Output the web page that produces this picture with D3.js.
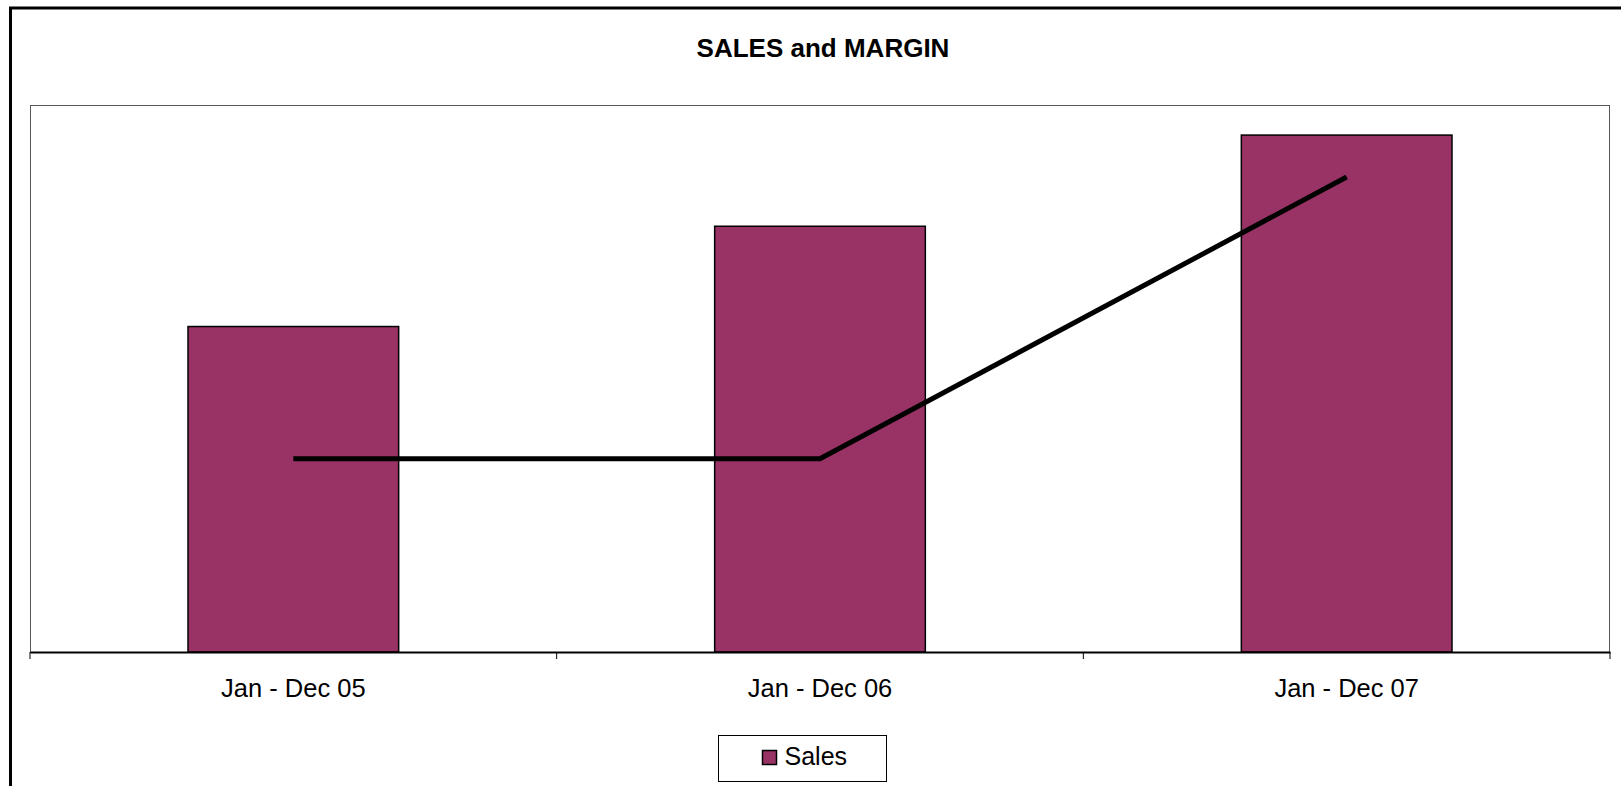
<!DOCTYPE html>
<html>
<head>
<meta charset="utf-8">
<script src="https://cdn.jsdelivr.net/npm/d3@7"></script>
<style>
  body { margin: 0; background: #fff; }
  text { font-family: "Liberation Sans", Arial, sans-serif; fill: #000; }
</style>
</head>
<body>
<div id="chart"></div>
<script>
// data (no value axis shown, so units are estimates)
var categories = ["Jan - Dec 05", "Jan - Dec 06", "Jan - Dec 07"];
var sales = [3570, 4670, 5670];     // bars
var margin_vals = [21.2, 21.2, 52.1]; // black line, secondary scale
var legendLabels = ["Sales"];
var chartTitle = "SALES and MARGIN";

// –––––––– canvas ––––––––
var svgWidth = 1621, svgHeight = 786;
var plot = { left: 30, right: 1610, top: 105, bottom: 652 };

var svg = d3.select("#chart").append("svg")
  .attr("width", svgWidth)
  .attr("height", svgHeight);

svg.append("rect").attr("width", svgWidth).attr("height", svgHeight).attr("fill", "#fff");

// chart area border (runs off the right and bottom)
svg.append("rect")
  .attr("x", 10.5).attr("y", 8)
  .attr("width", 1640).attr("height", 820)
  .attr("fill", "none").attr("stroke", "#000").attr("stroke-width", 3);

// plot area border
svg.append("rect")
  .attr("x", plot.left + 0.5).attr("y", plot.top + 0.5)
  .attr("width", plot.right - plot.left - 1).attr("height", plot.bottom - plot.top)
  .attr("fill", "#fff").attr("stroke", "#595959").attr("stroke-width", 1);

// title
svg.append("text")
  .attr("x", 823).attr("y", 57)
  .attr("text-anchor", "middle")
  .style("font-size", "26px").style("font-weight", "bold")
  .text(chartTitle);

// –––––––– scales ––––––––
var x = d3.scaleBand().domain(categories).range([plot.left, plot.right]).padding(0);
var y = d3.scaleLinear().domain([0, 6000]).range([plot.bottom, plot.top]);
var y2 = d3.scaleLinear().domain([0, 60]).range([plot.bottom, plot.top]);
var barW = x.bandwidth() / 2.5; // gap width 150%

// bars
svg.append("g").selectAll("rect")
  .data(sales)
  .enter().append("rect")
  .attr("x", (d, i) => x(categories[i]) + (x.bandwidth() - barW) / 2)
  .attr("y", d => y(d))
  .attr("width", barW)
  .attr("height", d => y(0) - y(d))
  .attr("fill", "#993366")
  .attr("stroke", "#000")
  .attr("stroke-width", 1.5);

// margin line
var line = d3.line()
  .x((d, i) => x(categories[i]) + x.bandwidth() / 2)
  .y(d => y2(d));
svg.append("path")
  .datum(margin_vals)
  .attr("d", line)
  .attr("fill", "none")
  .attr("stroke", "#000")
  .attr("stroke-width", 5);

// –––––––– category axis ––––––––
var axisG = svg.append("g")
  .attr("transform", `translate(0, ${plot.bottom})`)
  .call(d3.axisBottom(x).tickSize(0).tickPadding(0));
axisG.select(".domain").attr("stroke", "#000").attr("stroke-width", 2);
axisG.selectAll(".tick text")
  .attr("dy", null)
  .attr("y", 45)
  .style("font-size", "25.5px")
  .style("font-family", "'Liberation Sans', Arial, sans-serif");

// tick marks sit on the category boundaries
var bounds = categories.map(c => x(c)).concat([x.range()[1]]);
axisG.selectAll(".bound")
  .data(bounds)
  .enter().append("line")
  .attr("class", "bound")
  .attr("x1", d => d).attr("x2", d => d)
  .attr("y1", 0).attr("y2", 7)
  .attr("stroke", "#000").attr("stroke-width", 1);

// –––––––– legend ––––––––
var leg = svg.append("g").attr("transform", "translate(718.5, 735.5)");
leg.append("rect")
  .attr("width", 168).attr("height", 46)
  .attr("fill", "#fff").attr("stroke", "#000").attr("stroke-width", 1);
leg.selectAll(".sw")
  .data(legendLabels)
  .enter().append("rect")
  .attr("class", "sw")
  .attr("x", 44).attr("y", 15)
  .attr("width", 14).attr("height", 14)
  .attr("fill", "#993366").attr("stroke", "#000").attr("stroke-width", 1.5);
leg.selectAll(".lt")
  .data(legendLabels)
  .enter().append("text")
  .attr("class", "lt")
  .attr("x", 66).attr("y", 29.5)
  .style("font-size", "25px")
  .text(d => d);
</script>
</body>
</html>
